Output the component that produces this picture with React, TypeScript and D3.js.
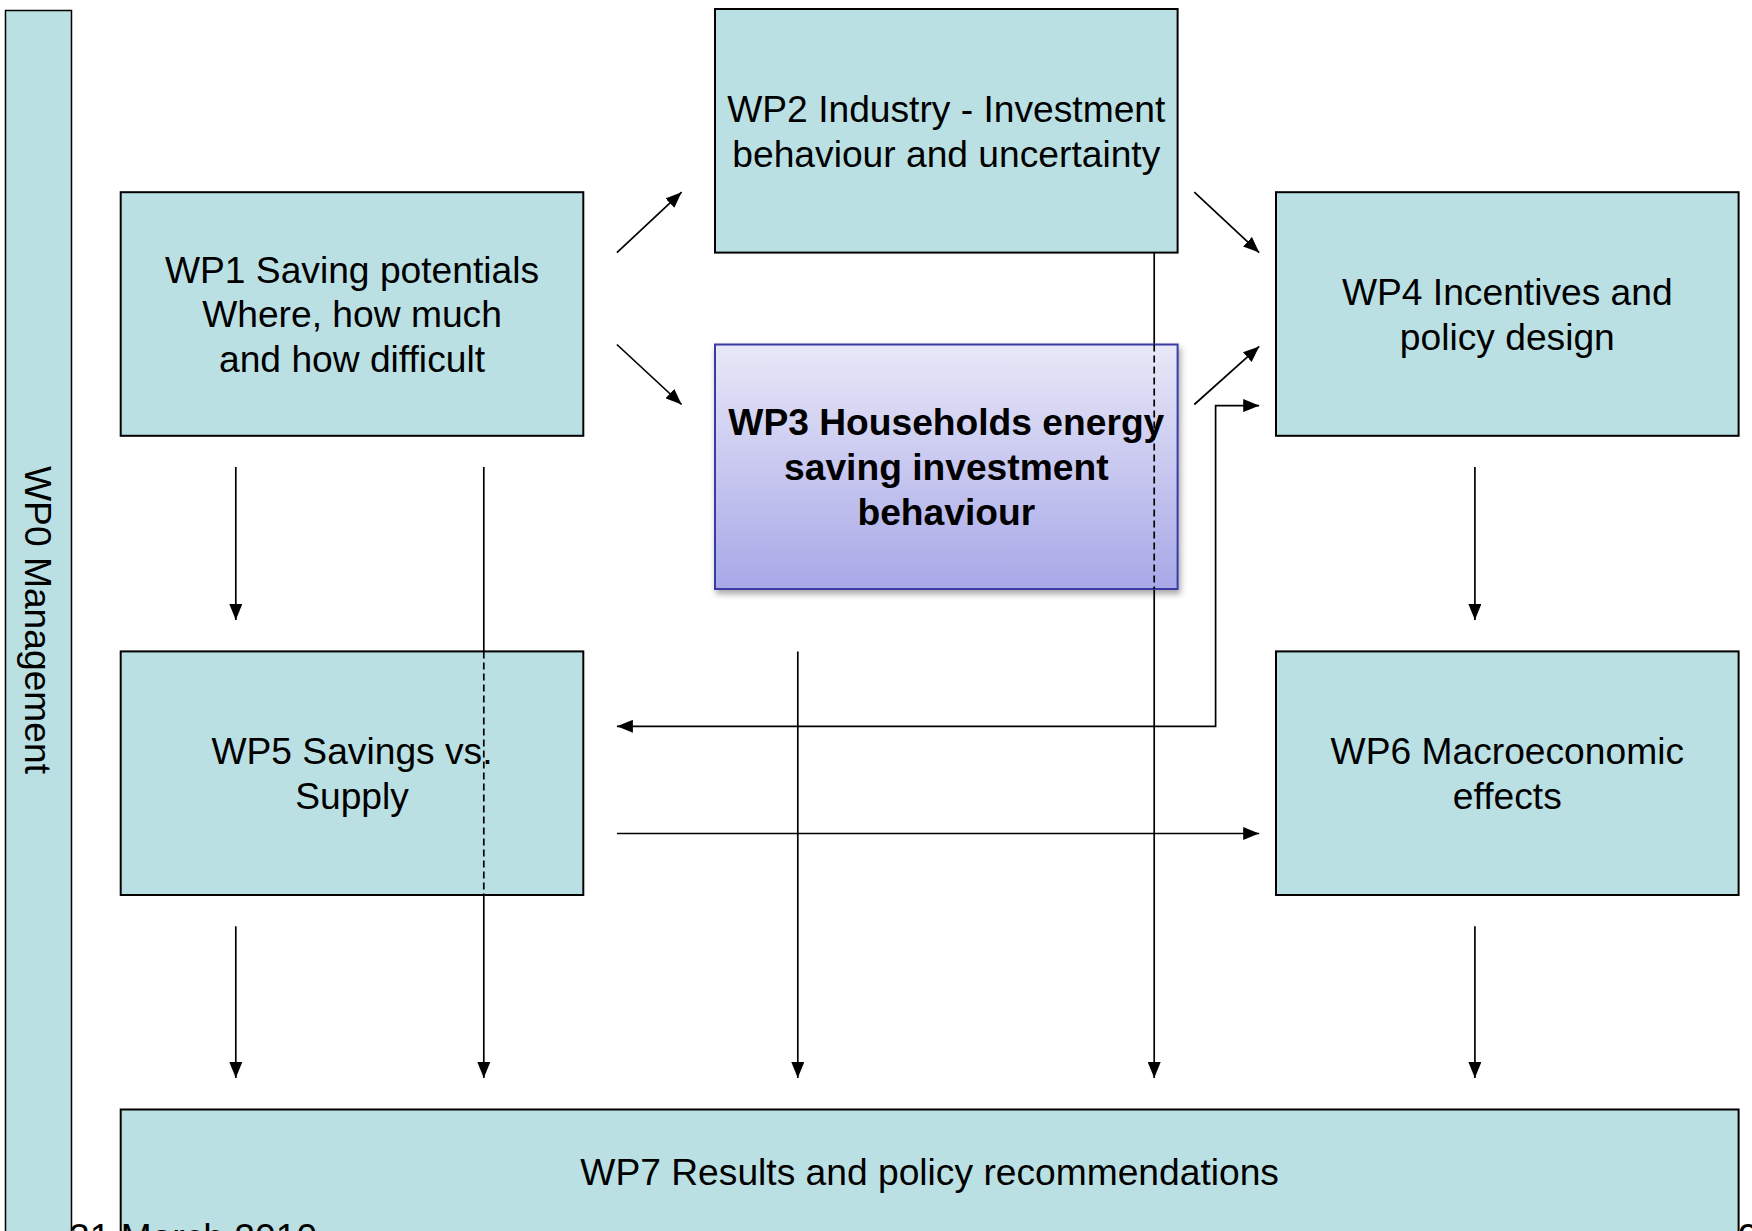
import React from "react";
import * as d3 from "d3";

// work packages and their text lines
const packageIds = ["WP1", "WP2", "WP3", "WP4", "WP5", "WP6", "WP7"];
const packageLines = [
  ["WP1 Saving potentials", "Where, how much", "and how difficult"],
  ["WP2 Industry - Investment", "behaviour and uncertainty"],
  ["WP3 Households energy", "saving investment", "behaviour"],
  ["WP4 Incentives and", "policy design"],
  ["WP5 Savings vs.", "Supply"],
  ["WP6 Macroeconomic", "effects"],
  ["WP7 Results and policy recommendations"],
];
const sideLabel = "WP0 Management";
const footerDate = "31 March 2010";
const footerPage = "9";

// links between packages (from -> to), "both" = arrows on both ends
const linkFrom = ["WP1", "WP1", "WP2", "WP3", "WP4", "WP5", "WP1", "WP1", "WP4", "WP5", "WP3", "WP2", "WP6"];
const linkTo = ["WP2", "WP3", "WP4", "WP4", "WP5", "WP6", "WP5", "WP7", "WP6", "WP7", "WP7", "WP7", "WP7"];

const W = 1752, H = 1231;
const FONT = "'Liberation Sans', Arial, sans-serif";
const FILL = "#bbe0e3";

// layout
const boxW = 462.6, boxH = 243.6;
const rects: Record<string, { x: number; y: number; w: number; h: number }> = {
  WP0: { x: 5.5, y: 10.5, w: 66, h: 1300 },
  WP1: { x: 120.7, y: 192.2, w: boxW, h: boxH },
  WP2: { x: 715, y: 9, w: boxW, h: boxH },
  WP3: { x: 715, y: 344.5, w: boxW, h: 244.5 },
  WP4: { x: 1276, y: 192.2, w: boxW, h: boxH },
  WP5: { x: 120.7, y: 651.4, w: boxW, h: boxH },
  WP6: { x: 1276, y: 651.4, w: boxW, h: boxH },
  WP7: { x: 120.7, y: 1109.5, w: 1617.9, h: 200 },
};

const r = rects;
const gapL = r.WP1.x + boxW + 33.6; // 616.8
const gapR = r.WP2.x - 33.4;        // 681.6
const gap2L = r.WP2.x + boxW + 16.7;
const gap2R = r.WP4.x - 16.8;
const arrowEnd = 1078;
const topStart = 467, midEnd = 620, lowStart = 926.3;

const routes: Record<string, { pts: [number, number][]; both?: boolean; dashed?: [number, number] }> = {
  "WP1-WP2": { pts: [[gapL, r.WP2.y + r.WP2.h], [gapR, r.WP1.y]] },
  "WP1-WP3": { pts: [[gapL, r.WP3.y], [gapR, 404.5]] },
  "WP2-WP4": { pts: [[gap2L, r.WP4.y], [gap2R, r.WP2.y + r.WP2.h]] },
  "WP3-WP4": { pts: [[gap2L, 404.5], [gap2R, 346.4]] },
  "WP4-WP5": { pts: [[gapL, 726.3], [1215.6, 726.3], [1215.6, 405.6], [gap2R, 405.6]], both: true },
  "WP5-WP6": { pts: [[gapL, 833.5], [gap2R, 833.5]] },
  "WP1-WP5": { pts: [[235.8, topStart], [235.8, midEnd]] },
  "WP1-WP7": { pts: [[483.8, topStart], [483.8, arrowEnd]], dashed: [r.WP5.y, r.WP5.y + boxH] },
  "WP4-WP6": { pts: [[1474.9, topStart], [1474.9, midEnd]] },
  "WP5-WP7": { pts: [[235.8, lowStart], [235.8, arrowEnd]] },
  "WP3-WP7": { pts: [[797.8, r.WP5.y], [797.8, arrowEnd]] },
  "WP2-WP7": { pts: [[1154.2, r.WP2.y + r.WP2.h], [1154.2, arrowEnd]], dashed: [r.WP3.y, r.WP3.y + r.WP3.h] },
  "WP6-WP7": { pts: [[1474.9, lowStart], [1474.9, arrowEnd]] },
};

const lineGen = d3.line<[number, number]>().x(d => d[0]).y(d => d[1]);
const fontSize = 37.2;
const lineStep = 44.7;

export default function App() {
  const links = linkFrom.map((f, i) => ({ key: `${f}-${linkTo[i]}`, ...routes[`${f}-${linkTo[i]}`] }));
  const drawBox = (id: string, i: number) => {
    const b = rects[id];
    const lines = packageLines[i];
    const isWP3 = id === "WP3";
    const cx = b.x + b.w / 2;
    const cy = id === "WP7" ? 1172 : b.y + b.h / 2;
    const y0 = cy - ((lines.length - 1) * lineStep) / 2;
    return (
      <g key={id}>
        <rect
          x={b.x}
          y={b.y}
          width={b.w}
          height={b.h}
          fill={isWP3 ? "url(#wp3grad)" : FILL}
          stroke={isWP3 ? "#3a3aa6" : "#000"}
          strokeWidth={2}
          filter={isWP3 ? "url(#shadow)" : undefined}
        />
        {lines.map((t, k) => (
          <text
            key={k}
            x={cx}
            y={y0 + k * lineStep}
            dy="0.36em"
            textAnchor="middle"
            fontFamily={FONT}
            fontSize={fontSize}
            fontWeight={isWP3 ? "bold" : "normal"}
            fill="#000"
          >
            {t}
          </text>
        ))}
      </g>
    );
  };

  return (
    <svg width={W} height={H} style={{ position: "absolute", left: 0, top: 0 }} viewBox={`0 0 ${W} ${H}`}>
      <defs>
        <linearGradient id="wp3grad" x1="0" y1="0" x2="0" y2="1">
          <stop offset="0" stopColor="#e8e8f8" />
          <stop offset="1" stopColor="#a8a8e8" />
        </linearGradient>
        <filter id="shadow" x="-10%" y="-10%" width="125%" height="130%">
          <feDropShadow dx="2" dy="4" stdDeviation="3" floodColor="#000" floodOpacity="0.35" />
        </filter>
        <marker id="arrow" viewBox="0 0 16 13" refX="16" refY="6.5" markerWidth="16" markerHeight="13"
          markerUnits="userSpaceOnUse" orient="auto-start-reverse">
          <path d="M0,0 L16,6.5 L0,13 Z" fill="#000" />
        </marker>
      </defs>
      <rect width={W} height={H} fill="#fff" />

      {/* WP0 side bar */}
      <rect x={r.WP0.x} y={r.WP0.y} width={r.WP0.w} height={r.WP0.h} fill={FILL} stroke="#000" strokeWidth={1.5} />
      <text
        transform={`translate(${r.WP0.x + r.WP0.w / 2},620) rotate(90)`}
        dy="0.36em"
        textAnchor="middle"
        fontFamily={FONT}
        fontSize={fontSize}
      >
        {sideLabel}
      </text>

      {/* connectors under boxes */}
      {links.map(l => (
        <path
          key={l.key}
          d={lineGen(l.pts) || ""}
          fill="none"
          stroke="#000"
          strokeWidth={1.7}
          markerEnd="url(#arrow)"
          markerStart={l.both ? "url(#arrow)" : undefined}
        />
      ))}

      {packageIds.map((id, i) => drawBox(id, i))}

      {/* dashed parts over boxes */}
      {links.filter(l => l.dashed).map(l => (
        <line
          key={l.key + "-d"}
          x1={l.pts[0][0]}
          x2={l.pts[0][0]}
          y1={l.dashed![0]}
          y2={l.dashed![1]}
          stroke="#000"
          strokeWidth={1.7}
          strokeDasharray="7 4"
        />
      ))}

      <text x={69} y={1250} fontFamily={FONT} fontSize={37.2}>{footerDate}</text>
      <text x={1738} y={1250} fontFamily={FONT} fontSize={37.2}>{footerPage}</text>
    </svg>
  );
}
